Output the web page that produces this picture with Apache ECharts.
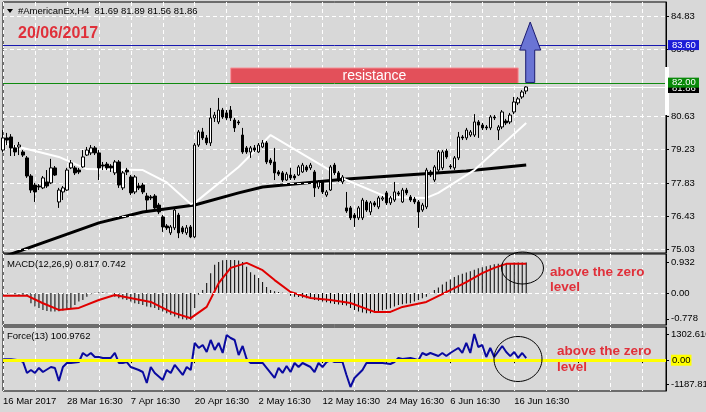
<!DOCTYPE html>
<html><head><meta charset="utf-8">
<script src="https://cdn.jsdelivr.net/npm/echarts@6/dist/echarts.min.js"></script>
<style>html,body{margin:0;padding:0;background:#d8d8d8;}#c{width:706px;height:412px;}</style>
</head><body><div id="c"></div>
<script>
// ---------------- data ----------------
const symbolName = '#AmericanEx,H4';
const lastOHLC = ['81.69', '81.89', '81.56', '81.86'];
const dateLabel = '20/06/2017';
const xTickLabels = ['16 Mar 2017', '28 Mar 16:30', '7 Apr 16:30', '20 Apr 16:30', '2 May 16:30',
  '12 May 16:30', '24 May 16:30', '6 Jun 16:30', '16 Jun 16:30'];
const slotCount = 167; // bar slots incl. empty shift area on the right
const priceTicks = [84.83, 83.43, 82.03, 80.63, 79.23, 77.83, 76.43, 75.03];
const macdTicks = [0.932, 0, -0.778];
const macdTickLabels = ['0.932', '0.00', '-0.778'];
const forceTicks = [1302.61, 0, -1187.81];
const forceTickLabels = ['1302.610', '{z|0.00}', '-1187.81'];
const macdTitle = 'MACD(12,26,9) 0.817 0.742';
const forceTitle = 'Force(13) 100.9762';
const levelBlue = 83.60;
const levelGreen = 82.00;
const bidPrice = 81.86;
const resistanceZone = { fromBar: 57, toBar: 129, low: 82.00, high: 82.66, text: 'resistance' };
const arrowUp = { bar: 132, from: 82.05, neck: 83.41, tip: 84.59 };
const noteText = ['above the zero', 'level'];

// [open, close, low, high]
const candles = [
[79.21,79.72,79.13,80.05],[79.72,79.63,79.42,79.93],[79.76,79.30,78.96,79.88],[79.30,79.13,78.96,79.42],
[79.34,79.42,79.00,79.55],[79.13,79.00,78.92,79.21],[78.88,78.12,78.04,78.96],[78.12,77.53,77.41,78.20],
[77.74,77.45,77.03,77.83],[77.70,77.66,77.53,77.78],[77.62,78.04,77.57,78.12],[77.87,77.70,77.62,78.37],
[77.83,78.46,77.78,78.84],[78.46,78.16,78.12,78.54],[77.03,77.53,76.78,77.62],[77.45,77.62,77.11,77.70],
[77.53,78.37,77.49,78.46],[78.46,78.67,78.41,78.79],[78.46,78.25,78.16,78.54],[78.37,78.29,78.20,78.46],
[78.50,78.92,78.46,79.21],[79.00,79.21,78.96,79.34],[79.09,79.30,79.00,79.42],[79.30,79.09,79.00,79.38],
[79.09,78.46,77.95,79.21],[78.58,78.54,78.37,78.71],[78.62,78.46,78.37,78.71],[78.54,78.46,78.29,78.62],
[78.25,78.71,78.16,78.79],[78.71,77.74,77.62,78.79],[77.62,78.25,77.53,78.33],[78.37,78.29,78.16,78.46],
[78.08,77.41,77.32,78.16],[77.45,78.08,77.36,78.16],[77.70,77.62,77.53,77.83],[77.74,77.45,77.36,77.83],
[77.28,77.11,76.69,77.41],[77.24,77.20,77.11,77.32],[77.28,76.78,76.69,77.36],[76.90,76.61,76.52,76.99],
[76.40,75.98,75.77,76.48],[76.02,75.94,75.85,76.10],[75.73,75.98,75.64,76.06],[75.94,76.69,75.85,76.78],
[76.48,75.73,75.51,76.57],[75.94,75.77,75.68,76.02],[75.73,75.94,75.64,76.06],[75.98,75.56,75.51,76.06],
[75.56,79.42,75.51,79.51],[79.42,79.97,79.34,80.05],[79.97,79.72,79.63,80.14],[79.72,79.51,79.42,79.84],
[79.51,80.56,79.38,80.98],[80.56,80.68,80.39,80.81],[80.39,80.89,80.30,81.40],[80.89,80.60,80.52,80.98],
[80.77,80.56,80.47,80.89],[80.89,80.56,80.43,81.06],[80.47,80.14,79.97,80.56],[80.39,80.35,80.26,80.47],
[79.84,79.13,79.05,80.14],[79.30,79.13,79.05,79.38],[79.13,79.30,78.88,79.38],[79.30,79.21,79.13,79.42],
[79.13,79.42,79.09,79.51],[79.34,79.51,79.30,79.63],[79.51,78.71,78.62,79.59],[78.79,78.67,78.58,78.88],
[78.71,78.25,77.95,79.30],[78.29,78.20,78.12,78.37],[78.25,77.95,77.87,78.33],[77.95,78.20,77.91,78.29],
[78.16,78.04,77.95,78.46],[78.12,78.04,77.95,78.20],[78.16,78.50,78.12,78.58],[78.29,78.58,78.25,78.67],
[78.50,78.37,78.29,78.58],[78.46,78.58,78.37,78.67],[78.29,77.62,77.24,78.37],[77.66,77.87,77.57,77.95],
[77.87,77.45,77.36,77.95],[77.32,77.45,77.24,77.53],[77.53,78.50,77.49,78.58],[78.58,78.25,78.16,78.67],
[78.25,77.95,77.87,78.33],[77.87,78.08,77.78,78.16],[76.78,76.65,76.57,77.45],[76.78,76.36,76.27,76.86],
[76.48,76.36,75.98,76.57],[76.36,76.78,76.27,76.86],[76.36,77.11,76.27,77.20],[77.03,76.69,76.61,77.11],
[76.61,76.99,76.48,77.07],[76.99,76.90,76.82,77.07],[76.82,77.20,76.73,77.28],[77.15,77.20,77.07,77.28],
[77.41,76.99,76.90,77.49],[76.99,77.20,76.90,77.28],[77.11,77.45,77.03,77.87],[77.41,77.36,77.28,77.49],
[77.03,77.53,76.99,77.62],[77.53,77.41,77.32,77.62],[77.24,77.11,77.03,77.32],[77.15,77.03,76.94,77.24],
[77.03,76.61,75.94,77.11],[76.69,76.90,76.61,76.99],[76.82,78.37,76.73,78.46],[78.29,78.16,78.08,78.37],
[77.95,78.50,77.87,78.58],[78.37,79.13,78.29,79.21],[78.46,79.13,78.37,79.21],[79.17,78.92,78.84,79.26],
[78.54,78.50,78.41,78.62],[78.46,78.88,78.37,78.96],[78.88,79.76,78.79,79.97],[79.76,79.72,79.63,79.84],
[79.72,80.05,79.63,80.14],[79.84,79.97,79.76,80.05],[79.84,80.39,79.76,80.72],[80.39,80.26,79.72,80.47],
[80.26,80.14,80.05,80.35],[80.18,80.14,80.05,80.26],[80.14,80.60,80.05,80.68],[80.60,80.56,80.47,80.68],
[80.05,80.18,79.63,80.26],[80.18,80.81,80.09,80.89],[80.43,80.35,80.26,80.52],[80.39,80.68,80.30,80.77],
[80.81,81.23,80.72,81.44],[81.19,81.36,81.10,81.44],[81.44,81.65,81.36,81.73],[81.69,81.86,81.56,81.89]
];

// moving averages: [bar, price]
const maWhite = [[0,79.51],[14,78.92],[21,78.41],[35,78.37],[41,77.85],[47,76.94],[48,76.99],[59,78.50],
  [67,79.84],[86,77.95],[96,77.24],[106,77.20],[109,77.41],[118,78.37],[131,80.35]];
const maBlack = [[0,74.72],[24,76.15],[35,76.61],[48,76.90],[59,77.41],[65,77.66],[86,77.99],[116,78.33],[131,78.58]];

// MACD main (histogram), one per bar
const macdHist = [
-0.02,-0.03,-0.03,-0.04,-0.05,-0.05,-0.08,
-0.31,-0.41,-0.45,-0.51,-0.54,-0.56,-0.56,-0.55,-0.53,-0.51,-0.45,-0.36,-0.26,-0.21,-0.11,
-0.04,0.01,0.02,0.02,0.01,-0.03,
-0.11,-0.16,-0.19,-0.21,-0.26,-0.31,-0.33,-0.36,-0.41,-0.43,-0.45,-0.51,-0.56,-0.61,-0.66,-0.71,-0.76,-0.79,-0.81,-0.81,
-0.45,-0.05,0.09,0.30,0.60,0.85,0.94,0.99,1.00,1.00,1.00,0.98,0.94,0.79,0.63,0.55,0.45,0.33,0.18,0.09,0.05,0.03,0.01,-0.02,
-0.08,-0.11,-0.12,-0.14,-0.16,-0.18,-0.21,-0.23,-0.26,-0.28,-0.31,-0.33,-0.35,-0.36,-0.38,
-0.45,-0.51,-0.56,-0.59,-0.61,-0.61,-0.59,-0.56,-0.52,-0.49,-0.46,-0.41,-0.36,-0.34,-0.32,-0.31,-0.26,-0.21,-0.16,-0.11,-0.03,
0.09,0.17,0.26,0.34,0.41,0.48,0.54,0.58,0.62,0.66,0.70,0.75,0.78,0.81,0.84,0.87,0.88,0.89,0.90,0.91,0.92,0.92,0.92,0.92
];
// MACD signal: [bar, value]
const macdSignal = [[0,-0.08],[6,-0.08],[10,-0.31],[14,-0.51],[19,-0.45],[24,-0.21],[28,-0.06],[37,-0.27],
  [42,-0.57],[47,-0.76],[51,-0.42],[54,0.30],[57,0.76],[61,0.91],[65,0.69],[68,0.39],[72,0.03],[77,-0.15],
  [82,-0.21],[87,-0.30],[93,-0.57],[97,-0.57],[100,-0.42],[106,-0.27],[112,0.09],[116,0.33],[120,0.60],
  [123,0.76],[126,0.88],[131,0.88]];
// Force index: [bar, value]
const forceIndex = [[0,45],[2,45],[4,0],[5,-75],[6,-637],[7,-488],[8,-637],[9,-388],[10,-588],[12,-339],[13,-388],
  [14,-1036],[15,-339],[16,-139],[17,-139],[19,-90],[20,359],[21,209],[22,359],[23,159],[24,159],[25,110],[27,110],
  [28,359],[29,-139],[30,-139],[31,-90],[32,-339],[34,-488],[35,-588],[36,-1135],[37,-339],[38,-637],[40,-986],
  [41,-488],[42,-637],[43,-239],[45,-737],[46,-339],[47,-488],[48,857],[49,608],[50,757],[51,408],[52,1006],
  [53,508],[54,857],[55,359],[56,1255],[57,1106],[58,1006],[59,259],[60,707],[61,60],[62,-139],[63,-139],
  [65,-139],[66,-388],[68,-886],[69,-388],[70,-637],[71,-289],[72,-588],[73,-139],[74,-339],[75,-139],
  [77,-339],[78,-588],[79,-139],[80,-339],[81,-90],[82,10],[83,-90],[85,-90],[86,-737],[87,-1334],[88,-886],
  [90,-488],[91,-139],[92,-139],[95,-139],[97,-189],[98,-90],[99,110],[100,60],[102,110],[103,60],[104,0],
  [105,359],[106,259],[107,359],[109,209],[110,359],[111,209],[112,359],[114,608],[115,359],[116,857],
  [117,359],[118,1302.61],[119,657],[120,757],[121,159],[122,608],[123,159],[125,707],[126,408],[127,200],
  [128,408],[129,110],[130,359],[131,101]];

// ---------------- chart ----------------
const FONT = '"Liberation Sans", Arial, sans-serif';
const GRID_LEFT = 3, GRID_W = 663;
const cats = Array.from({ length: slotCount }, (_, i) => String(i));
const chart = echarts.init(document.getElementById('c'));

function xAxisFor(gi, showLabels) {
  return {
    type: 'category', gridIndex: gi, data: cats, boundaryGap: false,
    axisLine: { show: false },
    axisTick: { show: showLabels, interval: 15, length: 3, lineStyle: { color: '#000' } },
    axisLabel: {
      show: showLabels, interval: 15, align: 'left', margin: 5, color: '#000',
      fontFamily: FONT, fontSize: 9.5,
      formatter: (v, idx) => { const k = idx / 16; return (Number.isInteger(k) && xTickLabels[k]) ? xTickLabels[k] : ''; }
    },
    splitLine: { show: true, interval: 7, lineStyle: { color: '#ffffff', type: [4, 3], width: 1 } }
  };
}
function yAxisFor(gi, min, max, ticks, fmt) {
  return {
    type: 'value', gridIndex: gi, position: 'right', min, max,
    axisLine: { show: true, lineStyle: { color: '#000' } },
    axisTick: { show: true, length: 3, customValues: ticks, lineStyle: { color: '#000' } },
    axisLabel: { customValues: ticks, formatter: fmt, color: '#000', fontFamily: FONT, fontSize: 9.5, margin: 5,
      rich: { z: { backgroundColor: '#ffff00', color: '#000', fontFamily: FONT, fontSize: 9.5, padding: [1, 1, 0, 1] } } },
    splitLine: { show: false }
  };
}
const gridBase = { left: GRID_LEFT, width: GRID_W, show: true, borderColor: '#000', borderWidth: 1,
  backgroundColor: 'transparent', containLabel: false, outerBoundsMode: 'none' };
const noLabel = { show: false };
function hLine(xi, yi, z, lineStyle, data) {
  return { type: 'line', xAxisIndex: xi, yAxisIndex: yi, data: [], z, silent: true,
    markLine: { silent: true, symbol: ['none', 'none'], label: noLabel, lineStyle, data } };
}

const option = {
  animation: false,
  backgroundColor: '#d8d8d8',
  grid: [
    Object.assign({ top: 2, height: 251 }, gridBase),
    Object.assign({ top: 254, height: 71 }, gridBase),
    Object.assign({ top: 327, height: 64 }, gridBase)
  ],
  xAxis: [xAxisFor(0, false), xAxisFor(1, false), xAxisFor(2, true)],
  yAxis: [
    yAxisFor(0, 74.885, 85.43, priceTicks, v => v.toFixed(2)),
    yAxisFor(1, -0.966, 1.178, macdTicks, v => macdTickLabels[macdTicks.indexOf(v)] ?? ''),
    yAxisFor(2, -1534, 1653, forceTicks, v => forceTickLabels[forceTicks.indexOf(v)] ?? '')
  ],
  series: [
    hLine(0, 0, 1, { color: '#ffffff', type: [4, 3], width: 1 }, priceTicks.map(v => ({ yAxis: v }))),
    {
      type: 'candlestick', xAxisIndex: 0, yAxisIndex: 0, data: candles, barWidth: 3, z: 5,
      itemStyle: { color: '#ffffff', color0: '#000000', borderColor: '#000000', borderColor0: '#000000', borderWidth: 1 }
    },
    { type: 'line', xAxisIndex: 0, yAxisIndex: 0, data: maBlack, showSymbol: false, symbol: 'none', z: 4,
      lineStyle: { color: '#000', width: 3 } },
    { type: 'line', xAxisIndex: 0, yAxisIndex: 0, data: maWhite, showSymbol: false, symbol: 'none', z: 4,
      lineStyle: { color: '#fff', width: 2 } },
    hLine(0, 0, 6, { color: '#1818b0', width: 1, type: 'solid' }, [{ yAxis: levelBlue }]),
    hLine(0, 0, 6, { color: '#ffffff', width: 1, type: 'solid' },
      [[{ coord: [resistanceZone.fromBar, bidPrice] }, { coord: [slotCount - 1, bidPrice] }]]),
    Object.assign(hLine(0, 0, 6, { color: '#0f8a0f', width: 1, type: 'solid' }, [{ yAxis: levelGreen }]), {
      markArea: { silent: true,
        itemStyle: { color: '#e3505a', borderColor: '#f59aa0', borderWidth: 1 },
        label: { show: true, position: 'inside', color: '#ffffff', fontFamily: FONT, fontSize: 14 },
        data: [[{ coord: [resistanceZone.fromBar, resistanceZone.low], name: resistanceZone.text },
                { coord: [resistanceZone.toBar, resistanceZone.high] }]] }
    }),
    // MACD
    hLine(1, 1, 1, { color: '#fff', type: [4, 3], width: 1 }, [{ yAxis: 0 }]),
    { type: 'bar', xAxisIndex: 1, yAxisIndex: 1, data: macdHist, barWidth: 1, z: 3,
      itemStyle: { color: '#000' } },
    { type: 'line', xAxisIndex: 1, yAxisIndex: 1, data: macdSignal, showSymbol: false, symbol: 'none', z: 4,
      lineStyle: { color: '#e00000', width: 2 } },
    // Force
    { type: 'line', xAxisIndex: 2, yAxisIndex: 2, data: forceIndex, showSymbol: false, symbol: 'none', z: 3,
      lineStyle: { color: '#0a0aa0', width: 2 } },
    hLine(2, 2, 5, { color: '#ffff00', type: 'solid', width: 3 }, [{ yAxis: 0 }])
  ]
};
chart.setOption(option);

// ---------------- annotations ----------------
const px = (gi, bar, val) => chart.convertToPixel({ gridIndex: gi }, [bar, val]);
const yPx = (ai, val) => chart.convertToPixel({ yAxisIndex: ai }, val);
const RED = '#e0303a';
const g = [];
// header
g.push({ type: 'polygon', shape: { points: [[7, 9], [13, 9], [10, 13]] }, style: { fill: '#000' }, z: 100 });
g.push({ type: 'text', x: 18, y: 11, style: { text: symbolName + '  ' + lastOHLC.join(' '), fill: '#000',
  font: '9.5px ' + FONT, textVerticalAlign: 'middle' }, z: 100 });
g.push({ type: 'text', x: 18, y: 34, style: { text: dateLabel, fill: RED, font: 'bold 16px ' + FONT,
  textVerticalAlign: 'middle' }, z: 100 });
g.push({ type: 'text', x: 7, y: 264, style: { text: macdTitle, fill: '#000', font: '9.5px ' + FONT, textVerticalAlign: 'middle' }, z: 100 });
g.push({ type: 'text', x: 7, y: 336, style: { text: forceTitle, fill: '#000', font: '9.5px ' + FONT, textVerticalAlign: 'middle' }, z: 100 });
// right-axis price boxes
const boxX = 668, boxW = 31;
const yBid = yPx(0, bidPrice), yBlue = yPx(0, levelBlue), yGreen = yPx(0, levelGreen);
g.push({ type: 'rect', shape: { x: 665, y: 67, width: 4, height: 48 }, style: { fill: '#ffffff' }, z: 100 });
g.push({ type: 'rect', shape: { x: boxX, y: yBid - 6, width: boxW, height: 12 }, style: { fill: '#000' }, z: 101 });
g.push({ type: 'text', x: boxX + 4, y: yBid + 1, style: { text: bidPrice.toFixed(2), fill: '#fff', font: '9.5px ' + FONT, textVerticalAlign: 'middle' }, z: 101 });
g.push({ type: 'rect', shape: { x: boxX, y: yGreen - 6, width: boxW, height: 10 }, style: { fill: '#0a8a0a' }, z: 102 });
g.push({ type: 'text', x: boxX + 4, y: yGreen - 1, style: { text: levelGreen.toFixed(2), fill: '#fff', font: '9.5px ' + FONT, textVerticalAlign: 'middle' }, z: 102 });
g.push({ type: 'rect', shape: { x: boxX, y: yBlue - 5.5, width: boxW, height: 10 }, style: { fill: '#1c1cd8' }, z: 102 });
g.push({ type: 'text', x: boxX + 4, y: yBlue - 0.5, style: { text: levelBlue.toFixed(2), fill: '#fff', font: '9.5px ' + FONT, textVerticalAlign: 'middle' }, z: 102 });
// arrow
const aB = px(0, arrowUp.bar, arrowUp.from), aN = px(0, arrowUp.bar, arrowUp.neck), aT = px(0, arrowUp.bar, arrowUp.tip);
const cx = aB[0];
g.push({ type: 'polygon', shape: { points: [[cx - 4.5, aB[1]], [cx + 4.5, aB[1]], [cx + 4.5, aN[1]], [cx + 10.5, aN[1]],
  [cx, aT[1]], [cx - 10.5, aN[1]], [cx - 4.5, aN[1]]] },
  style: { fill: '#6a74d4', stroke: '#1c1c70', lineWidth: 1 }, z: 100 });
// MACD note
g.push({ type: 'ellipse', shape: { cx: 522.5, cy: 268, rx: 21, ry: 16 }, style: { fill: null, stroke: '#000', lineWidth: 1 }, z: 100 });
g.push({ type: 'text', x: 550, y: 272, style: { text: noteText[0], fill: RED, font: 'bold 13.5px ' + FONT, textVerticalAlign: 'middle' }, z: 100 });
g.push({ type: 'text', x: 550, y: 287, style: { text: noteText[1], fill: RED, font: 'bold 13.5px ' + FONT, textVerticalAlign: 'middle' }, z: 100 });
// Force note
g.push({ type: 'ellipse', shape: { cx: 518, cy: 359, rx: 24, ry: 22.5 }, style: { fill: null, stroke: '#000', lineWidth: 1 }, z: 100 });
g.push({ type: 'text', x: 557, y: 351, style: { text: noteText[0], fill: RED, font: 'bold 13.5px ' + FONT, textVerticalAlign: 'middle' }, z: 100 });
g.push({ type: 'text', x: 557, y: 367, style: { text: noteText[1], fill: RED, font: 'bold 13.5px ' + FONT, textVerticalAlign: 'middle' }, z: 100 });

chart.setOption({ graphic: g });
</script></body></html>
